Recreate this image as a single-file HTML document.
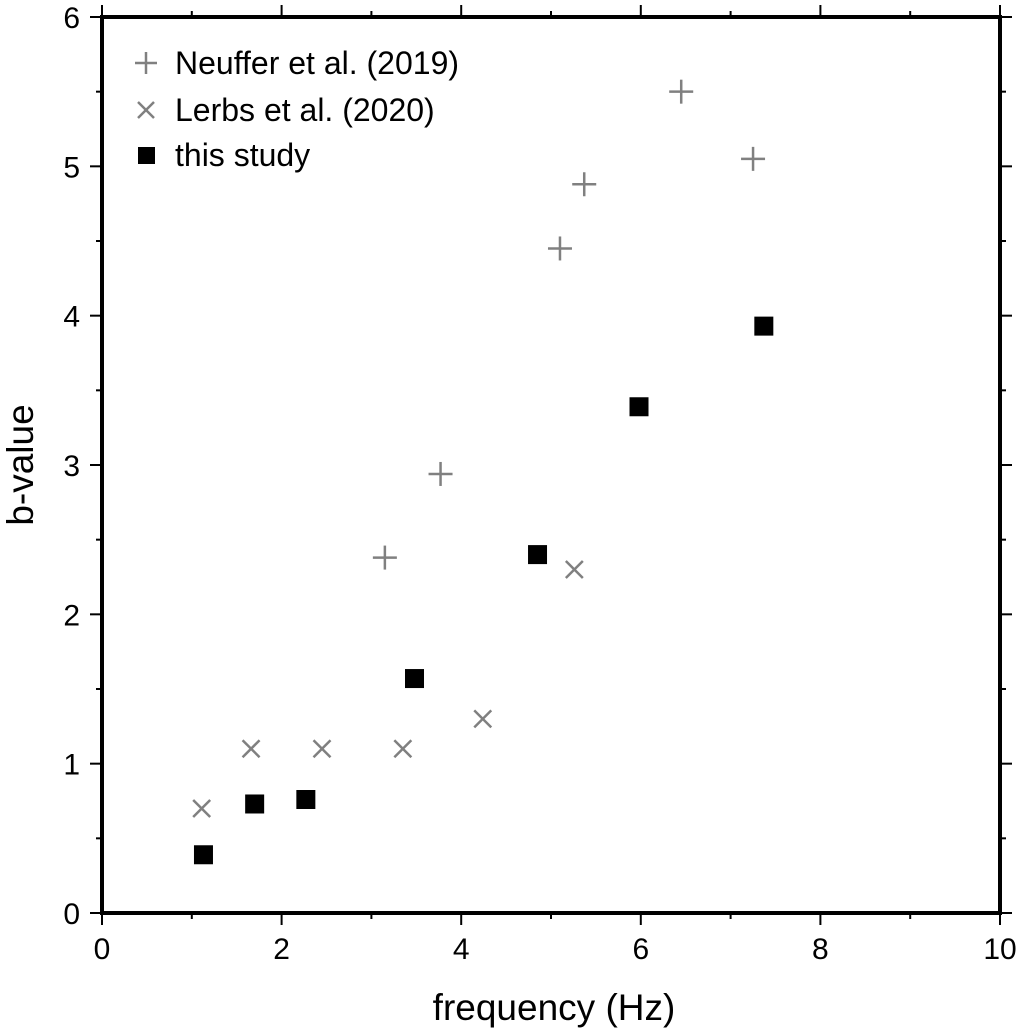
<!DOCTYPE html>
<html><head><meta charset="utf-8"><style>
body{margin:0;background:#fff;}
svg{display:block;font-family:"Liberation Sans",sans-serif;}
</style></head><body>
<svg id="chart" width="1017" height="1031"></svg>
<script>
const neufferF=[3.15,3.77,5.10,5.37,6.45,7.25];
const neufferB=[2.38,2.94,4.45,4.88,5.50,5.05];
const lerbsF=[1.11,1.66,2.45,3.35,4.24,5.26];
const lerbsB=[0.70,1.10,1.10,1.10,1.30,2.30];
const studyF=[1.13,1.70,2.27,3.48,4.85,5.98,7.37];
const studyB=[0.39,0.73,0.76,1.57,2.40,3.39,3.93];
const xTicks=[0,2,4,6,8,10];
const yTicks=[0,1,2,3,4,5,6];

const L=102,R=1000,T=17,B=913;
const sx=v=>L+(v-0)/10*(R-L);
const sy=v=>B-(v-0)/6*(B-T);
const svg=document.getElementById('chart');
const NS='http://www.w3.org/2000/svg';
function mk(tag,attrs,parent){const e=document.createElementNS(NS,tag);for(const k in attrs)e.setAttribute(k,attrs[k]);(parent||svg).appendChild(e);return e;}

const axes=mk('g',{});


for(let v=0;v<=10;v+=1){const major=v%2===0;const len=major?12:6;const x=sx(v);
 const t1=mk('line',{x1:x,y1:B,x2:x,y2:B+len,stroke:'#000','stroke-width':2},axes);
 
 const t2=mk('line',{x1:x,y1:T,x2:x,y2:T-len,stroke:'#000','stroke-width':2},axes);
 }
for(let v=0;v<=6;v+=0.5){const major=Math.abs(v-Math.round(v))<1e-9;const len=major?12:6;const y=sy(v);
 const t1=mk('line',{x1:L,y1:y,x2:L-len,y2:y,stroke:'#000','stroke-width':2},axes);
 
 const t2=mk('line',{x1:R,y1:y,x2:R+len,y2:y,stroke:'#000','stroke-width':2},axes);
 }
const frame=mk('rect',{x:L,y:T,width:R-L,height:B-T,fill:'none',stroke:'#000','stroke-width':4},axes);

xTicks.forEach(v=>{const t=mk('text',{x:sx(v),y:B+46,'font-size':30,'text-anchor':'middle'},axes);t.textContent=v;
 });
yTicks.forEach(v=>{const t=mk('text',{x:L-22,y:sy(v)+11,'font-size':30,'text-anchor':'end'},axes);t.textContent=v;
 });
const xt=mk('text',{x:(L+R)/2+3,y:1020,'font-size':37,'text-anchor':'middle'});xt.textContent='frequency (Hz)';

const yt=mk('text',{x:0,y:0,'font-size':37,'text-anchor':'middle',transform:`translate(33,${(T+B)/2}) rotate(-90)`});yt.textContent='b-value';


function plus(x,y,g,s){mk('line',{x1:x-s,y1:y,x2:x+s,y2:y,stroke:'#808080','stroke-width':2.5},g);mk('line',{x1:x,y1:y-s,x2:x,y2:y+s,stroke:'#808080','stroke-width':2.5},g);}
function cross(x,y,g,s){mk('line',{x1:x-s,y1:y-s,x2:x+s,y2:y+s,stroke:'#808080','stroke-width':2.5},g);mk('line',{x1:x-s,y1:y+s,x2:x+s,y2:y-s,stroke:'#808080','stroke-width':2.5},g);}
neufferF.forEach((f,i)=>{const g=mk('g',{});plus(sx(f),sy(neufferB[i]),g,12);});
lerbsF.forEach((f,i)=>{const g=mk('g',{});cross(sx(f),sy(lerbsB[i]),g,8.5);});
studyF.forEach((f,i)=>{const r=mk('rect',{x:sx(f)-9.5,y:sy(studyB[i])-9.5,width:19,height:19,fill:'#000'});});

const lg=mk('g',{});
const e1=mk('g',{},lg);
plus(146,63,e1,11);let t=mk('text',{x:175,y:74,'font-size':32},e1);t.textContent='Neuffer et al. (2019)';
const e2=mk('g',{},lg);
cross(146,110,e2,8);t=mk('text',{x:175,y:121,'font-size':32},e2);t.textContent='Lerbs et al. (2020)';
const e3=mk('g',{},lg);
mk('rect',{x:138,y:147,width:17,height:17,fill:'#000'},e3);t=mk('text',{x:175,y:166,'font-size':32},e3);t.textContent='this study';
</script>
</body></html>
